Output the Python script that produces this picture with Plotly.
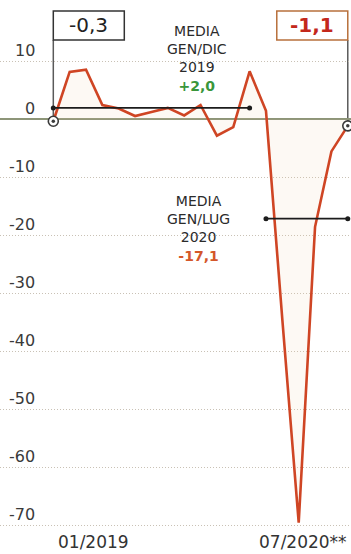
import plotly.graph_objects as go

# Monthly change (%), January 2019 - July 2020
months = [
    "01/2019", "02/2019", "03/2019", "04/2019", "05/2019", "06/2019",
    "07/2019", "08/2019", "09/2019", "10/2019", "11/2019", "12/2019",
    "01/2020", "02/2020", "03/2020", "04/2020", "05/2020", "06/2020",
    "07/2020",
]
change_pct = [
    -0.3, 8.2, 8.6, 2.5, 1.9, 0.6,
    1.3, 2.0, 0.7, 2.5, -2.8, -1.3,
    8.3, 1.5, -34.5, -69.5, -18.5, -5.5,
    -1.1,
]

# Period averages and the months their reference lines cover
mean_2019 = 2.0
mean_2020 = -17.1
mean_2019_span = ("01/2019", "01/2020")
mean_2020_span = ("02/2020", "07/2020")
mean_2019_title = ["MEDIA", "GEN/DIC", "2019"]
mean_2020_title = ["MEDIA", "GEN/LUG", "2020"]

y_ticks = [10, 0, -10, -20, -30, -40, -50, -60, -70]
x_tick_labels = ["01/2019", "07/2020**"]

W, H = 351, 554
FONT = "DejaVu Sans"
LINE_RED = "#cf4524"
TEXT = "#2b2b2b"

x = list(range(len(months)))
pos = {m: i for i, m in enumerate(months)}

X_RANGE = [-3.258, 18.197]
Y_RANGE = [-74.91, 20.6]


def fmt(v, sign=False):
    s = f"{v:+.1f}" if sign else f"{v:.1f}"
    return s.replace(".", ",")


def px_to_y(py):
    return Y_RANGE[1] - py / H * (Y_RANGE[1] - Y_RANGE[0])


fig = go.Figure()

# main series with a faint fill down to zero
fig.add_trace(go.Scatter(
    x=x, y=change_pct, mode="lines",
    line=dict(color=LINE_RED, width=2.6),
    fill="tozeroy", fillcolor="rgba(236,210,172,0.13)",
    hoverinfo="skip", showlegend=False,
))

# average reference lines
for mean_val, (m0, m1) in ((mean_2019, mean_2019_span), (mean_2020, mean_2020_span)):
    fig.add_trace(go.Scatter(
        x=[pos[m0], pos[m1]], y=[mean_val, mean_val],
        mode="lines+markers",
        line=dict(color="#1c1c1c", width=1.8),
        marker=dict(color="#1c1c1c", size=5),
        hoverinfo="skip", showlegend=False,
    ))

# first / last value markers
ends_x = [x[0], x[-1]]
ends_y = [change_pct[0], change_pct[-1]]
fig.add_trace(go.Scatter(
    x=ends_x, y=ends_y, mode="markers",
    marker=dict(size=10, color="white", line=dict(color="#3a3a3a", width=1.6)),
    hoverinfo="skip", showlegend=False,
))
fig.add_trace(go.Scatter(
    x=ends_x, y=ends_y, mode="markers",
    marker=dict(size=3.5, color="#3a3a3a"),
    hoverinfo="skip", showlegend=False,
))

# value boxes above the first and last months
BOX_TOP, BOX_BOTTOM, BOX_W = 11, 40, 71
shapes = []
annotations = []
box_specs = [
    (x[0], 0, BOX_W, change_pct[0], "#333333", "#222222", False),
    (x[-1], -BOX_W, 0, change_pct[-1], "#b8703c", "#c3281c", True),
]
for anchor, dx0, dx1, val, border, txt_color, bold in box_specs:
    shapes.append(dict(
        type="rect", xref="x", xsizemode="pixel", xanchor=anchor,
        x0=dx0, x1=dx1, yref="paper",
        y0=1 - BOX_BOTTOM / H, y1=1 - BOX_TOP / H,
        line=dict(color=border, width=1.5), fillcolor="white", layer="above",
    ))
    shapes.append(dict(
        type="line", xref="x", yref="y",
        x0=anchor, x1=anchor, y0=val, y1=px_to_y(BOX_BOTTOM),
        line=dict(color="#5a5a5a", width=1.5), layer="below",
    ))
    label = fmt(val)
    annotations.append(dict(
        xref="x", yref="paper", x=anchor, xshift=(dx0 + dx1) / 2,
        y=1 - (BOX_TOP + BOX_BOTTOM) / 2 / H, yanchor="middle",
        text=f"<b>{label}</b>" if bold else label, showarrow=False,
        font=dict(family=FONT, size=20, color=txt_color),
    ))

# average captions
for title, mean_val, color, cx, cy in (
    (mean_2019_title, mean_2019, "#3a963a", 197, 58),
    (mean_2020_title, mean_2020, "#d4572a", 199, 228),
):
    text = "<br>".join(title) + f"<br><span style='color:{color}'><b>{fmt(mean_val, True)}</b></span>"
    annotations.append(dict(
        xref="paper", yref="paper", x=cx / W, y=1 - cy / H,
        xanchor="center", yanchor="middle", align="center",
        text=text, showarrow=False,
        font=dict(family=FONT, size=14, color=TEXT),
    ))

# y tick labels sit just above their gridlines
for v in y_ticks:
    annotations.append(dict(
        xref="paper", yref="y", x=37 / W, y=v, yshift=11,
        xanchor="right", yanchor="middle", text=str(v), showarrow=False,
        font=dict(family=FONT, size=16, color="#3a3a3a"),
    ))

# x labels at both ends of the series
for xi, label, xanchor, shift in (
    (x[0], x_tick_labels[0], "left", 4),
    (x[-1], x_tick_labels[1], "right", 0),
):
    annotations.append(dict(
        xref="x", yref="paper", x=xi, xshift=shift, y=1 - 542 / H,
        xanchor=xanchor, yanchor="middle", text=label, showarrow=False,
        borderpad=0,
        font=dict(family=FONT, size=17, color="#333333"),
    ))

fig.update_layout(
    width=W, height=H,
    margin=dict(l=0, r=0, t=0, b=0),
    paper_bgcolor="white", plot_bgcolor="white",
    showlegend=False,
    xaxis=dict(range=X_RANGE, visible=False, fixedrange=True),
    yaxis=dict(
        range=Y_RANGE, tickvals=y_ticks, showticklabels=False,
        showgrid=True, gridcolor="#c9c1b5", gridwidth=1, griddash="1px,2px",
        zeroline=True, zerolinecolor="#8d9578", zerolinewidth=1.6,
        fixedrange=True,
    ),
    shapes=shapes,
    annotations=annotations,
)

fig.write_html("out.html")
